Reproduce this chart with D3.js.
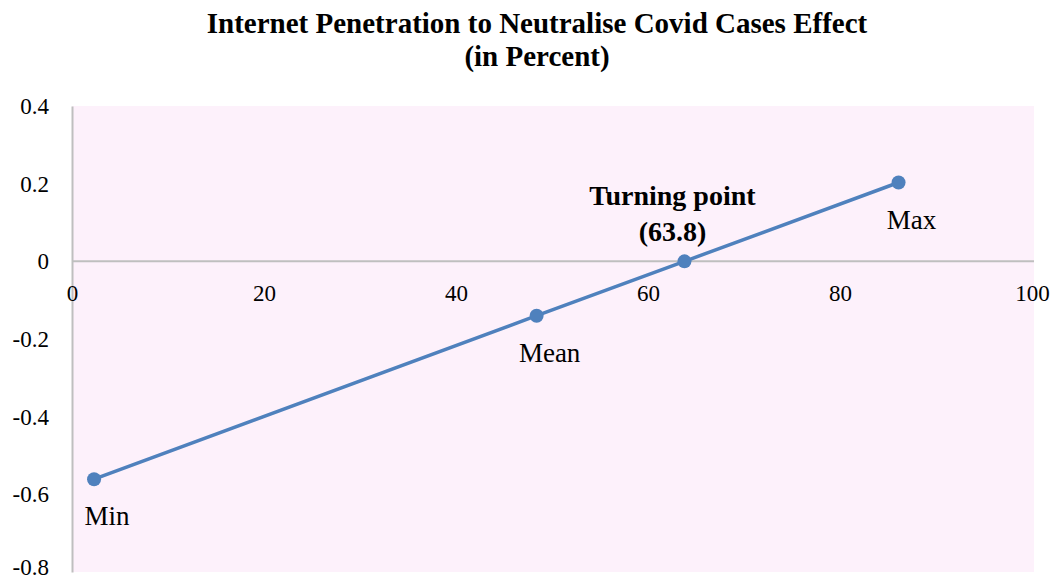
<!DOCTYPE html>
<html>
<head>
<meta charset="utf-8">
<script src="https://cdn.jsdelivr.net/npm/d3@7"></script>
<style>
  body { margin: 0; background: #fff; }
  text { font-family: "Liberation Serif", "DejaVu Serif", serif; fill: #000; }
</style>
</head>
<body>
<div id="chart-area"></div>
<script>
// data
const labels = ["Min", "Mean", "Turning point", "Max"];
const xValues = [2.3, 48.4, 63.8, 86.1];
const yValues = [-0.561, -0.140, 0, 0.203];
const xTicks = [0, 20, 40, 60, 80, 100];
const yTicks = [0.4, 0.2, 0, -0.2, -0.4, -0.6, -0.8];
const titleLines = ["Internet Penetration to Neutralise Covid Cases Effect", "(in Percent)"];

const W = 1058, H = 582;
const plot = {left: 72, right: 1032, top: 106, bottom: 572};

const svg = d3.select("#chart-area")
  .append("svg")
  .attr("width", W)
  .attr("height", H);

// escalas
const x = d3.scaleLinear().domain([0, 100]).range([plot.left, plot.right]);
const y = d3.scaleLinear().domain([-0.8, 0.4]).range([plot.bottom, plot.top]);

// fondo rosa
svg.append("rect")
  .attr("x", plot.left)
  .attr("y", plot.top)
  .attr("width", plot.right - plot.left + 2)
  .attr("height", plot.bottom - plot.top)
  .attr("fill", "#fdf1fb");

// titulo
svg.append("g").selectAll("text")
  .data(titleLines)
  .enter().append("text")
  .attr("x", 537)
  .attr("y", (d, i) => 33 + i * 33)
  .attr("text-anchor", "middle")
  .attr("font-size", "29px")
  .attr("font-weight", "bold")
  .text(d => d);

// eje y
const fmt = d => d === 0 ? "0" : d3.format(".1f")(d).replace("\u2212", "-");
const axisLeft = d3.axisLeft(y).tickValues(yTicks).tickSize(0).tickPadding(23).tickFormat(fmt);
const yGroup = svg.append("g").attr("transform", `translate(${plot.left},0)`).call(axisLeft);
yGroup.select(".domain").attr("stroke", "#bfbfbf").attr("stroke-width", 2);
yGroup.selectAll("text").attr("font-size", "23px").attr("font-family", "Liberation Serif").attr("fill", "#000")
  .attr("dy", d => d === -0.8 ? "0.1em" : "0.32em"); // ultimo label queda dentro del borde

// eje x en y=0
const axisBottom = d3.axisBottom(x).tickValues(xTicks).tickSize(0).tickPadding(23);
const xGroup = svg.append("g").attr("transform", `translate(0,${y(0)})`).call(axisBottom);
xGroup.select(".domain").attr("stroke", "#bfbfbf").attr("stroke-width", 2)
  .attr("d", `M${plot.left},0H${plot.right + 2}`);
xGroup.selectAll("text").attr("font-size", "23px").attr("font-family", "Liberation Serif").attr("fill", "#000");

// linea
const points = xValues.map((v, i) => ({x: v, y: yValues[i], label: labels[i]}));
const line = d3.line().x(d => x(d.x)).y(d => y(d.y));

svg.append("path")
  .datum(points)
  .attr("d", line)
  .attr("fill", "none")
  .attr("stroke", "#4f81bd")
  .attr("stroke-width", 3.5);

svg.selectAll("circle.pt")
  .data(points)
  .enter().append("circle")
  .attr("class", "pt")
  .attr("cx", d => x(d.x))
  .attr("cy", d => y(d.y))
  .attr("r", 7)
  .attr("fill", "#4f81bd");

// etiquetas
points.forEach(d => {
  if (d.label === "Turning point") {
    svg.append("text")
      .attr("x", x(d.x) - 12)
      .attr("y", y(d.y) - 56)
      .attr("text-anchor", "middle")
      .attr("font-size", "28px")
      .attr("font-weight", "bold")
      .text(d.label);
    svg.append("text")
      .attr("x", x(d.x) - 12)
      .attr("y", y(d.y) - 20)
      .attr("text-anchor", "middle")
      .attr("font-size", "28px")
      .attr("font-weight", "bold")
      .text("(" + d3.format(".1f")(d.x) + ")");
  } else {
    svg.append("text")
      .attr("x", x(d.x) + 13)
      .attr("y", y(d.y) + 46)
      .attr("text-anchor", "middle")
      .attr("font-size", "27px")
      .text(d.label);
  }
});
</script>
</body>
</html>
